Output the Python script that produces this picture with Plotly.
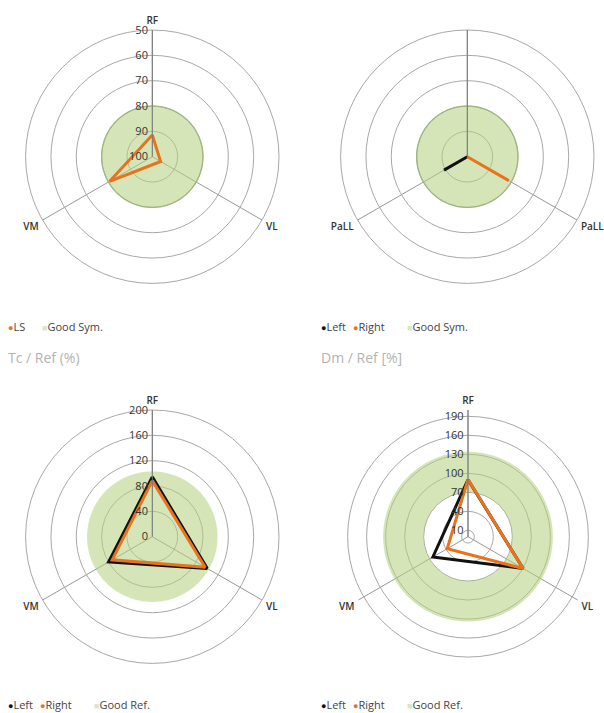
import numpy as np
import plotly.graph_objects as go

W, H = 604, 713

# ---- data -------------------------------------------------------------
axis_theta = [0, 120, 240]

# Tc symmetry (100 = perfect symmetry, drawn at the centre)
sym_labels = ["RF", "VL", "VM"]
ls_values = [91.4, 96.2, 80.6]
sym_ticks = [50, 60, 70, 80, 90, 100]
sym_range = [100, 50]
good_sym = 80

# Dm symmetry for PaLL
pall_labels = ["", "PaLL", "PaLL"]
pall_left = [100, 100, 89.4]
pall_right = [100, 81.1, 100]

# Tc / Ref (%)
tc_labels = ["RF", "VL", "VM"]
tc_left = [94.5, 100.0, 79.6]
tc_right = [88.5, 96.4, 73.0]
tc_ticks = [0, 40, 80, 120, 160, 200]
tc_range = [0, 200]
tc_good_ref = 103

# Dm / Ref [%]
dm_labels = ["RF", "VL", "VM"]
dm_left = [90.0, 100.5, 64.0]
dm_right = [90.5, 100.5, 37.9]
dm_ticks = [10, 40, 70, 100, 130, 160, 190]
dm_range = [0, 200]
dm_good_ref = [70, 134]

# ---- styling ----------------------------------------------------------
ORANGE = "#e8731e"
BLACK = "#111111"
GREEN_FILL = "rgba(181,208,126,0.55)"
GREEN_KEY = "#d9e7c6"
RING = "#a8a8a8"
SPOKE = "#999999"
FONT = "Open Sans"

circle = np.linspace(0, 360, 241)


def px_dom(cx, cy, r):
    return dict(x=[(cx - r) / W, (cx + r) / W],
                y=[1 - (cy + r) / H, 1 - (cy - r) / H])


def polar(cx, cy, rng, ticks, labels, show_ticks=True, outer=True):
    return dict(
        domain=px_dom(cx, cy, 126.7),
        bgcolor="white",
        radialaxis=dict(
            range=rng, tickmode="array", tickvals=ticks,
            showticklabels=show_ticks, angle=90, tickangle=90,
            side="counterclockwise", showline=True, linecolor="#777777",
            linewidth=1, ticks="",
            gridcolor=RING, gridwidth=1,
            tickfont=dict(family=FONT, size=11, color="#333"),
            layer="above traces",
        ),
        angularaxis=dict(
            tickmode="array", tickvals=axis_theta, ticktext=labels,
            rotation=90, direction="clockwise",
            ticks="outside", ticklen=2, tickcolor="rgba(0,0,0,0)",
            gridcolor=SPOKE, gridwidth=0.8,
            showline=outer, linecolor=RING, linewidth=1,
            tickfont=dict(family=FONT, size=10, color="#333", weight=600),
        ),
    )


def closed(v):
    return list(v) + [v[0]]


fig = go.Figure()


def add_disk(sub, r_edge, outline=None):
    fig.add_trace(go.Scatterpolar(
        r=[r_edge] * len(circle), theta=circle, mode="lines",
        fill="toself", fillcolor=GREEN_FILL,
        line=dict(color=outline or "rgba(0,0,0,0)", width=1.3 if outline else 0),
        hoverinfo="skip", subplot=sub))


def add_ring(sub, r_in, r_out):
    r = [r_out] * len(circle) + [r_in] * len(circle)
    th = list(circle) + list(circle[::-1])
    fig.add_trace(go.Scatterpolar(
        r=r, theta=th, mode="lines", fill="toself", fillcolor=GREEN_FILL,
        line=dict(color="rgba(0,0,0,0)", width=0),
        hoverinfo="skip", subplot=sub))


def add_series(sub, vals, color):
    fig.add_trace(go.Scatterpolar(
        r=closed(vals), theta=closed(axis_theta), mode="lines",
        line=dict(color=color, width=3), subplot=sub))


# top-left
add_disk("polar", good_sym, outline="rgba(160,178,128,0.9)")
add_series("polar", ls_values, ORANGE)
# top-right
add_disk("polar2", good_sym, outline="rgba(160,178,128,0.9)")
add_series("polar2", pall_left, BLACK)
add_series("polar2", pall_right, ORANGE)
# bottom-left
add_disk("polar3", tc_good_ref)
add_series("polar3", tc_left, BLACK)
add_series("polar3", tc_right, ORANGE)
# bottom-right
add_ring("polar4", dm_good_ref[0], dm_good_ref[1])
add_series("polar4", dm_left, BLACK)
add_series("polar4", dm_right, ORANGE)

fig.update_layout(
    width=W, height=H, margin=dict(l=0, r=0, t=0, b=0),
    paper_bgcolor="white", showlegend=False,
    font=dict(family=FONT),
    polar=polar(152.3, 156.7, sym_range, sym_ticks, sym_labels),
    polar2=polar(467.3, 156.7, sym_range, sym_ticks, pall_labels, show_ticks=False),
    polar3=polar(152.3, 536.7, tc_range, tc_ticks, tc_labels),
    polar4=polar(468.0, 536.7, dm_range, dm_ticks, dm_labels, outer=False),
)


def ann(text, x, y, size=11, color="#444"):
    fig.add_annotation(text=text, x=x / W, y=1 - y / H, xref="paper", yref="paper",
                       xanchor="left", yanchor="middle", showarrow=False,
                       font=dict(family=FONT, size=size, color=color))


def key(x, y, label, color, symbol="●"):
    ann(f'<span style="color:{color};font-size:9px">{symbol}</span>{label}', x, y)


# legends
key(6, 326.5, "LS", ORANGE)
key(40, 326.5, "Good Sym.", GREEN_KEY, "■")
key(319, 326.5, "Left", BLACK)
key(351, 326.5, "Right", ORANGE)
key(405, 326.5, "Good Sym.", GREEN_KEY, "■")
key(6, 704, "Left", BLACK)
key(38, 704, "Right", ORANGE)
key(92, 704, "Good Ref.", GREEN_KEY, "■")
key(319, 704, "Left", BLACK)
key(351, 704, "Right", ORANGE)
key(405, 704, "Good Ref.", GREEN_KEY, "■")

# section titles
ann("Tc / Ref (%)", 6, 357, size=14, color="#b3b3b3")
ann("Dm / Ref [%]", 319, 357, size=14, color="#b3b3b3")

fig.write_html("out.html")
